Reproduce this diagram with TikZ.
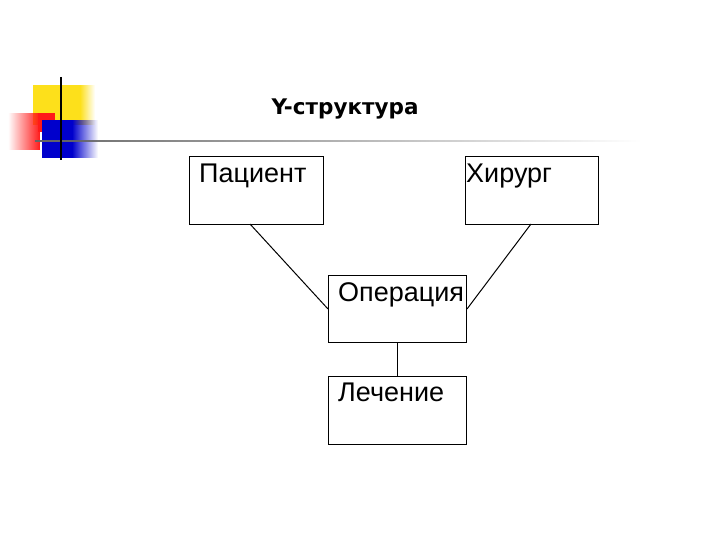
\documentclass[tikz,border=0pt]{standalone}
\usepackage{fontspec}
\setmainfont{Liberation Sans}
\newfontfamily\titlefont{DejaVu Sans}
\usetikzlibrary{fadings}
\begin{document}
\begin{tikzpicture}[x=1pt,y=-1pt,
  box/.style={draw,line width=1pt,minimum width=134pt,minimum height=68pt,anchor=north west,inner sep=0pt},
  lbl/.style={anchor=north west,font=\fontsize{27}{29}\selectfont,inner sep=0pt},
  conn/.style={line width=1pt}]
\useasboundingbox (0,0) rectangle (720,540);
% decoration
\fill[yellow!80!orange!90] (33,85) rectangle (80,125);
\fill[yellow!80!orange!90, path fading=east] (80,85) rectangle (95,125);
\fill[red!90, path fading=west] (8,113) rectangle (40,150);
\fill[red!90] (38,113) rectangle (55,132);
\fill[blue!80!black] (42,120) rectangle (72,158);
\fill[blue!80!black, path fading=east] (72,120) rectangle (98,158);
\fill[gray!80!black, path fading=east] (35,140) rectangle (640,142.5);
\draw[line width=2pt] (61,77) -- (61,160);
\node[font=\titlefont\bfseries\fontsize{21.5}{24}\selectfont] (t) at (345,109) {Y-структура};
% boxes
\node[box,minimum width=134pt] (p) at (189,156) {};
\node[lbl] at (199,164) {Пациент};
\node[box,minimum width=133pt] (h) at (465,156) {};
\node[lbl] at (466,164) {Хирург};
\node[box,minimum width=138pt,minimum height=67pt] (o) at (328,275) {};
\node[lbl] at (338,282) {Операция};
\node[box,minimum width=138pt] (l) at (328,376) {};
\node[lbl] at (338,383) {Лечение};
\coordinate (pb) at (250,224);
\coordinate (hb) at (531,224);
\draw[conn] (pb) -- (o.west);
\draw[conn] (hb) -- (o.east);
\draw[conn] (o.south) -- (l.north);
\end{tikzpicture}
\end{document}
